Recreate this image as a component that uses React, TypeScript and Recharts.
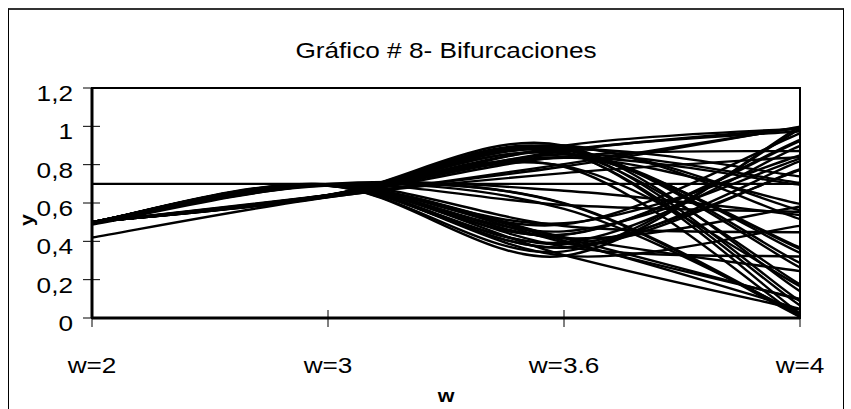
import React from 'react';
import { LineChart, Line, XAxis, YAxis, ReferenceArea } from 'recharts';

const categories = ['w=2', 'w=3', 'w=3.6', 'w=4'];
const yTicks = [0, 0.2, 0.4, 0.6, 0.8, 1, 1.2];

// y values of iterations n = 0..50, one array per w
const yW2 = [
  0.7, 0.42, 0.4872, 0.4997, 0.5, 0.5, 0.5, 0.5, 0.5, 0.5, 0.5, 0.5, 0.5, 0.5, 0.5, 0.5, 0.5,
  0.5, 0.5, 0.5, 0.5, 0.5, 0.5, 0.5, 0.5, 0.5, 0.5, 0.5, 0.5, 0.5, 0.5, 0.5, 0.5, 0.5,
  0.5, 0.5, 0.5, 0.5, 0.5, 0.5, 0.5, 0.5, 0.5, 0.5, 0.5, 0.5, 0.5, 0.5, 0.5, 0.5, 0.5,
];
const yW3 = [
  0.7, 0.63, 0.6993, 0.6308, 0.6986, 0.6317, 0.6981, 0.6325, 0.6975, 0.6332, 0.697, 0.6339,
  0.6965, 0.6345, 0.696, 0.6351, 0.6955, 0.6357, 0.6951, 0.6362, 0.6947, 0.6367, 0.6943,
  0.6372, 0.6939, 0.6377, 0.6935, 0.6381, 0.6932, 0.6386, 0.6928, 0.639, 0.6925, 0.6394,
  0.6922, 0.6397, 0.6919, 0.6401, 0.6916, 0.6404, 0.6913, 0.6408, 0.6911, 0.6411, 0.6908,
  0.6414, 0.6905, 0.6417, 0.6903, 0.642, 0.69,
];
const yW36 = [
  0.7, 0.756, 0.6641, 0.8031, 0.5693, 0.8827, 0.3727, 0.8417, 0.4798, 0.8985, 0.3282, 0.7938,
  0.5893, 0.8713, 0.4037, 0.8666, 0.4162, 0.8747, 0.3946, 0.86, 0.4335, 0.8841, 0.369,
  0.8382, 0.4882, 0.8995, 0.3254, 0.7903, 0.5966, 0.8664, 0.4168, 0.8751, 0.3936, 0.8593,
  0.4354, 0.885, 0.3665, 0.8358, 0.494, 0.8999, 0.3244, 0.789, 0.5994, 0.8644, 0.4219,
  0.878, 0.3855, 0.8528, 0.4519, 0.8917, 0.3478,
];
const yW4 = [
  0.7, 0.84, 0.5376, 0.9943, 0.0225, 0.0879, 0.3208, 0.8716, 0.4476, 0.989, 0.0434, 0.1661,
  0.554, 0.9883, 0.0461, 0.176, 0.5802, 0.9743, 0.1002, 0.3606, 0.9223, 0.2868, 0.8181,
  0.5952, 0.9638, 0.1396, 0.4805, 0.9985, 0.006, 0.024, 0.0939, 0.3402, 0.8978, 0.3669,
  0.9291, 0.2634, 0.7761, 0.6951, 0.8478, 0.5162, 0.999, 0.0042, 0.0166, 0.0654, 0.2446,
  0.7391, 0.7714, 0.7054, 0.8313, 0.5611, 0.9851,
];

const columns = [yW2, yW3, yW36, yW4];
const data = categories.map((w, i) => {
  const row: Record<string, number | string> = { w };
  columns[i].forEach((v, n) => {
    row['s' + n] = v;
  });
  return row;
});
const seriesKeys = yW2.map((_, n) => 's' + n);

const FONT = 'Arial, "Liberation Sans", sans-serif';
const SX = 1.19; // the reference text is a bit stretched sideways

// Excel-like smoothing: cubic bezier through every point (Catmull-Rom)
function excelSmooth(context: any) {
  let pts: number[][] = [];
  return {
    areaStart() {},
    areaEnd() {},
    lineStart() {
      pts = [];
    },
    point(x: number, y: number) {
      pts.push([+x, +y]);
    },
    lineEnd() {
      const n = pts.length;
      if (!n) return;
      context.moveTo(pts[0][0], pts[0][1]);
      for (let i = 0; i < n - 1; i++) {
        const p0 = pts[Math.max(i - 1, 0)];
        const p1 = pts[i];
        const p2 = pts[i + 1];
        const p3 = pts[Math.min(i + 2, n - 1)];
        context.bezierCurveTo(
          p1[0] + (p2[0] - p0[0]) / 6,
          p1[1] + (p2[1] - p0[1]) / 6,
          p2[0] - (p3[0] - p1[0]) / 6,
          p2[1] - (p3[1] - p1[1]) / 6,
          p2[0],
          p2[1]
        );
      }
    },
  };
}

const fmtY = (v: number) => (Number.isInteger(v) ? String(v) : v.toFixed(1).replace('.', ','));

const YTick = (props: any) => {
  const { x, y, payload } = props;
  return (
    <g>
      <line x1={x - 9} x2={x + 8} y1={y} y2={y} stroke="#000" strokeWidth={1} />
      <text
        transform={`translate(${x - 19},${y + 5}) scale(${SX},1)`}
        textAnchor="end"
        dy="0.36em"
        fontSize={22}
        fontFamily={FONT}
        fill="#000"
      >
        {fmtY(payload.value)}
      </text>
    </g>
  );
};

const XTick = (props: any) => {
  const { x, y, payload } = props;
  return (
    <g>
      <line x1={x} x2={x} y1={y - 8} y2={y + 9} stroke="#000" strokeWidth={1} />
      <text
        transform={`translate(${x},${y + 55}) scale(${SX},1)`}
        textAnchor="middle"
        fontSize={22}
        fontFamily={FONT}
        fill="#000"
      >
        {payload.value}
      </text>
    </g>
  );
};

export default function App() {
  return (
    <div style={{ position: 'absolute', left: 0, top: 0, width: 851, height: 409, background: '#fff', overflow: 'hidden' }}>
      <div
        style={{
          position: 'absolute',
          left: 8,
          top: 8,
          width: 834,
          height: 420,
          borderLeft: '1px solid #000',
          borderRight: '1px solid #000',
          borderTop: '2px solid #333',
        }}
      />
      <div
        style={{
          position: 'absolute',
          left: 446,
          top: 51,
          transform: `translate(-50%, -50%) scaleX(${SX})`,
          fontFamily: FONT,
          fontSize: 22,
          whiteSpace: 'nowrap',
        }}
      >
        Gráfico # 8- Bifurcaciones
      </div>
      <div
        style={{
          position: 'absolute',
          left: 446,
          top: 396,
          transform: `translate(-50%, -50%) scaleX(${SX})`,
          fontFamily: FONT,
          fontSize: 18,
          fontWeight: 'bold',
          lineHeight: 1,
        }}
      >
        w
      </div>
      <div
        style={{
          position: 'absolute',
          left: 27,
          top: 220,
          transform: `translate(-50%, -50%) rotate(-90deg) scaleX(${SX})`,
          fontFamily: FONT,
          fontSize: 18,
          fontWeight: 'bold',
          lineHeight: 1,
        }}
      >
        y
      </div>
      <div style={{ position: 'absolute', left: 0, top: 0 }}>
        <LineChart width={851} height={409} data={data} margin={{ top: 88, right: 51, left: 32, bottom: 31 }}>
          <XAxis
            dataKey="w"
            interval={0}
            height={60}
            tickSize={0}
            tickMargin={0}
            tickLine={false}
            axisLine={{ stroke: '#000', strokeWidth: 3 }}
            tick={XTick}
          />
          <YAxis
            domain={[0, 1.2]}
            ticks={yTicks}
            width={60}
            tickSize={0}
            tickMargin={0}
            tickLine={false}
            axisLine={{ stroke: '#000', strokeWidth: 3 }}
            tick={YTick}
          />
          <ReferenceArea x1="w=2" x2="w=4" y1={0} y2={1.2} fill="none" stroke="#000" strokeWidth={2} />
          {seriesKeys.map((k) => (
            <Line
              key={k}
              dataKey={k}
              type={excelSmooth as any}
              stroke="#000"
              strokeWidth={2.4}
              dot={false}
              isAnimationActive={false}
            />
          ))}
        </LineChart>
      </div>
    </div>
  );
}
